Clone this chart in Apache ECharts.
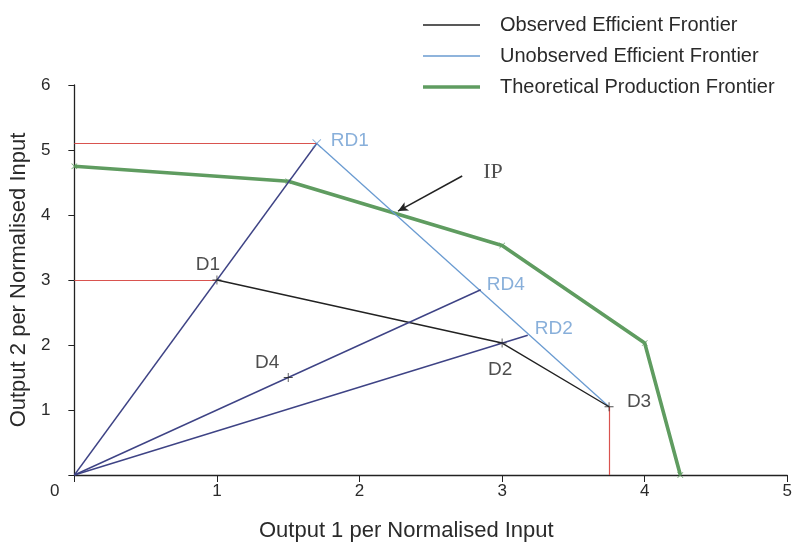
<!DOCTYPE html>
<html>
<head>
<meta charset="utf-8">
<script src="https://cdn.jsdelivr.net/npm/echarts@6/dist/echarts.min.js"></script>
<style>
  html, body { margin: 0; background: #fff; }
  #main { width: 795px; height: 547px; }
</style>
</head>
<body>
<div id="main"></div>
<script>
// frontiers
const observedX = [1, 3, 3.75]
const observedY = [3, 2.03, 1.05]
const unobservedX = [1.7, 3.75]
const unobservedY = [5.1, 1.05]
const theoreticalX = [0, 1.5, 3, 4, 4.25]
const theoreticalY = [4.75, 4.52, 3.53, 2.03, 0]

// labelled points
const pointNames = ['D1', 'D2', 'D3', 'D4', 'RD1', 'RD2', 'RD4']
const pointX = [1, 3, 3.75, 1.5, 1.7, 3.18, 2.85]
const pointY = [3, 2.03, 1.05, 1.5, 5.1, 2.15, 2.85]

// rays from the origin to these points
const rayTargets = ['RD1', 'RD4', 'RD2']

// red guide lines [x1, y1, x2, y2]
const guideLines = [
  [0, 5.1, 1.7, 5.1],
  [0, 3, 1, 3],
  [3.75, 0, 3.75, 1.05]
]

// IP annotation: point on the frontier and arrow tail
const ipPoint = [2.27, 4.06]
const ipArrowTail = [2.72, 4.6]

const xTicks = [0, 1, 2, 3, 4, 5]
const yTicks = [0, 1, 2, 3, 4, 5, 6]

const legendNames = ['Observed Efficient Frontier', 'Unobserved Efficient Frontier', 'Theoretical Production Frontier']

const FONT = 'Liberation Sans, Arial, sans-serif'
const BLACK = '#222222'
const TEXT = '#2a2a2a'
const BLUE = '#6a9bd1'
const GREEN = '#5f9c60'
const NAVY = '#3e4385'
const RED = '#d9534f'

// label offsets (px) relative to each point
const labelStyle = {
  D1: { offset: [-9, -15], color: BLACK },
  D2: { offset: [-2, 27], color: BLACK },
  D3: { offset: [30, -5], color: BLACK },
  D4: { offset: [-21, -15], color: BLACK },
  RD1: { offset: [33, -3], color: BLUE },
  RD2: { offset: [26, -6], color: BLUE },
  RD4: { offset: [25, -5], color: BLUE }
}

const plusSymbol = 'path://M4.5,0h1v10h-1zM0,4.5h10v1h-10z'
const crossSymbol = 'path://M0.7,0L5,4.3L9.3,0L10,0.7L5.7,5L10,9.3L9.3,10L5,5.7L0.7,10L0,9.3L4.3,5L0,0.7z'

const zip = (xs, ys) => xs.map((x, i) => [x, ys[i]])
const pointOf = name => {
  const i = pointNames.indexOf(name)
  return [pointX[i], pointY[i]]
}

// a line series that only carries markLines
const helperLines = (name, pairs, lineStyle, symbol) => ({
  name,
  type: 'line',
  data: [],
  silent: true,
  markLine: {
    silent: true,
    symbol: symbol || 'none',
    symbolSize: [7, 10],
    label: { show: false },
    emphasis: { disabled: true },
    lineStyle,
    data: pairs.map(p => [{ coord: p[0] }, { coord: p[1] }])
  }
})

const myChart = echarts.init(document.getElementById('main'))

const option = {
  animation: false,
  backgroundColor: '#fff',
  textStyle: { fontFamily: FONT },
  grid: { left: 74, right: 5, top: 85, bottom: 70 },
  legend: {
    orient: 'vertical',
    left: 418,
    top: 10,
    itemWidth: 57,
    itemHeight: 14,
    itemGap: 11,
    selectedMode: false,
    textStyle: { fontFamily: FONT, fontSize: 20, color: TEXT, lineHeight: 20, padding: [0, 0, 0, 15] },
    data: [
      { name: legendNames[0], icon: 'path://M0,0H57V1.3H0Z' },
      { name: legendNames[1], icon: 'path://M0,0H57V1.3H0Z' },
      { name: legendNames[2], icon: 'path://M0,0H57V3.6H0Z' }
    ]
  },
  xAxis: {
    type: 'value',
    min: xTicks[0],
    max: xTicks[xTicks.length - 1],
    interval: 1,
    splitLine: { show: false },
    axisLine: { onZero: false, lineStyle: { color: BLACK, width: 1.3 } },
    axisTick: { length: 7, lineStyle: { color: BLACK } },
    axisLabel: {
      margin: 8,
      fontSize: 17,
      color: TEXT,
      fontFamily: FONT,
      formatter: v => (v === 0 ? '' : String(v))
    },
    name: 'Output 1 per Normalised Input',
    nameLocation: 'middle',
    nameGap: 45,
    nameTextStyle: { fontSize: 22, color: TEXT, fontFamily: FONT, padding: [0, 49, 0, 0] }
  },
  yAxis: {
    type: 'value',
    min: yTicks[0],
    max: yTicks[yTicks.length - 1],
    interval: 1,
    splitLine: { show: false },
    axisLine: { onZero: false, lineStyle: { color: BLACK, width: 1.3 } },
    axisTick: { length: 6, lineStyle: { color: BLACK } },
    axisLabel: {
      margin: 24,
      fontSize: 17,
      color: TEXT,
      fontFamily: FONT,
      formatter: v => (v === 0 ? '' : String(v))
    },
    name: 'Output 2 per Normalised Input',
    nameLocation: 'middle',
    nameGap: 43,
    nameTextStyle: { fontSize: 22, color: TEXT, fontFamily: FONT }
  },
  graphic: [
    {
      type: 'text',
      left: 50,
      top: 483,
      style: { text: '0', fontSize: 17, fill: TEXT, fontFamily: FONT }
    }
  ],
  series: [
    helperLines(
      'guides',
      guideLines.map(g => [[g[0], g[1]], [g[2], g[3]]]),
      { color: RED, width: 1.2, type: 'solid', opacity: 1 }
    ),
    helperLines(
      'rays',
      rayTargets.map(n => [[0, 0], pointOf(n)]),
      { color: NAVY, width: 1.4, type: 'solid', opacity: 1 }
    ),
    helperLines(
      'ipArrow',
      [[ipArrowTail, ipPoint]],
      { color: BLACK, width: 1.5, type: 'solid', opacity: 1 },
      ['none', 'arrow']
    ),
    {
      name: legendNames[0],
      type: 'line',
      color: BLACK,
      symbol: 'none',
      lineStyle: { color: BLACK, width: 1.4 },
      data: zip(observedX, observedY),
      z: 4
    },
    {
      name: legendNames[1],
      type: 'line',
      color: BLUE,
      symbol: 'none',
      lineStyle: { color: BLUE, width: 1.3 },
      data: zip(unobservedX, unobservedY),
      z: 3
    },
    {
      name: legendNames[2],
      type: 'line',
      color: GREEN,
      symbol: crossSymbol,
      symbolSize: 6,
      itemStyle: { color: GREEN },
      lineStyle: { color: GREEN, width: 3.6 },
      data: zip(theoreticalX, theoreticalY),
      z: 2
    },
    {
      name: 'points',
      type: 'scatter',
      silent: true,
      z: 5,
      data: pointNames.map((n, i) => ({
        name: n,
        value: [pointX[i], pointY[i]],
        symbol: n === 'RD1' ? crossSymbol : plusSymbol,
        symbolSize: n === 'RD1' || !n.startsWith('RD') ? 9 : 0.01,
        itemStyle: { color: n.startsWith('RD') ? BLUE : BLACK },
        label: {
          show: true,
          position: 'inside',
          offset: labelStyle[n].offset,
          formatter: n,
          fontSize: 19,
          fontFamily: FONT,
          color: labelStyle[n].color
        }
      }))
    },
    {
      name: 'ip',
      type: 'scatter',
      silent: true,
      symbol: 'circle',
      symbolSize: 0.01,
      itemStyle: { color: 'rgba(0,0,0,0)' },
      data: [ipPoint],
      label: {
        show: true,
        position: 'inside',
        offset: [95, -39],
        formatter: 'IP',
        fontSize: 22,
        fontFamily: 'Liberation Serif, Times New Roman, serif',
        color: BLACK
      }
    }
  ]
}

myChart.setOption(option)
</script>
</body>
</html>
